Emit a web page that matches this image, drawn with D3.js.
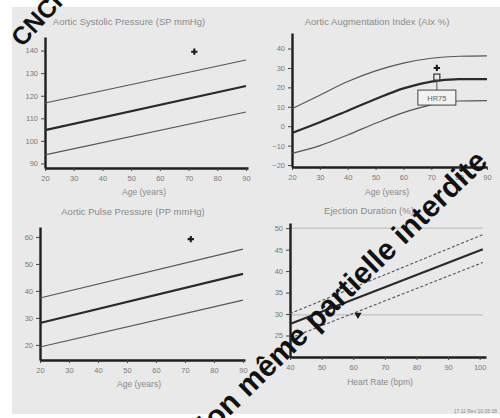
<!DOCTYPE html>
<html>
<head>
<meta charset="utf-8">
<script src="https://cdn.jsdelivr.net/npm/d3@7/dist/d3.min.js"></script>
<style>
  html, body { margin: 0; padding: 0; background: #ffffff; }
  svg { display: block; font-family: "Liberation Sans", Arial, sans-serif; }
</style>
</head>
<body>
<svg id="chart" width="500" height="418"></svg>
<script>
// ---- Aortic systolic pressure vs age (reference band + patient) ----
const spAges = [20, 90];
const spUpper = [116.8, 135.8];
const spMid = [104.8, 124.3];
const spLower = [93.8, 112.8];
const spPatient = [72, 139.5];
const spTicks = [90, 100, 110, 120, 130, 140];

// ---- Aortic augmentation index vs age ----
const aixAges = [20, 30, 40, 50, 60, 70, 80, 90];
const aixUpper = [9, 16, 23, 28.5, 32.5, 35, 36, 36.2];
const aixMid = [-3.5, 2, 8, 14, 19.5, 23, 24.2, 24.3];
const aixLower = [-14, -10, -4.5, 1.5, 7, 11, 13, 13.2];
const aixPatient = [72, 30];
const aixHr75 = [72, 25.3];
const aixTicks = [-20, -10, 0, 10, 20, 30, 40];

// ---- Aortic pulse pressure vs age ----
const ppAges = [20, 90];
const ppUpper = [37.4, 55.5];
const ppMid = [28.1, 46.3];
const ppLower = [19.2, 36.6];
const ppPatient = [72, 59.2];
const ppTicks = [20, 30, 40, 50, 60];

// ---- Ejection duration vs heart rate ----
const edRates = [40, 101];
const edUpper = [30.1, 48.5];
const edMid = [27.7, 45.1];
const edLower = [24.4, 42];
const edPatient = [61.5, 29.8];
const edGuides = [29.8, 50];
const edTicks = [25, 30, 35, 40, 45, 50];
const edRateTicks = [40, 50, 60, 70, 80, 90, 100];

const ageTicks = [20, 30, 40, 50, 60, 70, 80, 90];

const svg = d3.select("#chart");

// paper background
svg.append("rect").attr("width", 500).attr("height", 418).attr("fill", "#ffffff");
svg.append("rect").attr("x", 12).attr("y", 7).attr("width", 488).attr("height", 407).attr("fill", "#e9e9e9");

const textCol = "#8a8a8a";

function panel(cfg) {
  const g = svg.append("g");
  const x = d3.scaleLinear().domain(cfg.xDomain).range(cfg.xRange);
  const y = d3.scaleLinear().domain(cfg.yDomain).range(cfg.yRange);

  // guide lines
  (cfg.guides || []).forEach(v => {
    g.append("line")
      .attr("x1", x(cfg.xDomain[0])).attr("x2", x(cfg.xDomain[1]) - 3)
      .attr("y1", y(v)).attr("y2", y(v))
      .attr("stroke", "#b5b5b5").attr("stroke-width", 1);
  });

  const xAxis = g.append("g")
    .attr("transform", `translate(0,${cfg.yRange[0]})`)
    .call(d3.axisBottom(x).tickValues(cfg.xTicks).tickSize(3).tickSizeOuter(0).tickPadding(5)
      .tickFormat(d3.format("d")));
  const yAxis = g.append("g")
    .attr("transform", `translate(${cfg.xRange[0]},0)`)
    .call(d3.axisLeft(y).tickValues(cfg.yTicks).tickSize(4).tickSizeOuter(0).tickPadding(3)
      .tickFormat(d3.format("d")));
  [xAxis, yAxis].forEach(a => {
    a.select(".domain").attr("stroke", "#1e1e1e").attr("stroke-width", 2.4);
    a.selectAll(".tick line").attr("stroke", "#444").attr("stroke-width", 1);
    a.selectAll(".tick text").attr("fill", "#7a7a7a").attr("font-size", 7.5)
      .attr("font-family", "Liberation Sans, Arial, sans-serif");
  });

  const line = d3.line().x(d => x(d[0])).y(d => y(d[1])).curve(cfg.curve || d3.curveLinear);
  const band = [
    { vals: cfg.upper, w: 1.1, c: "#555", dash: cfg.dash },
    { vals: cfg.lower, w: 1.1, c: "#555", dash: cfg.dash },
    { vals: cfg.mid, w: 2.2, c: "#2a2a2a", dash: null }
  ];
  band.forEach(b => {
    g.append("path")
      .datum(cfg.xs.map((v, i) => [v, b.vals[i]]))
      .attr("d", line)
      .attr("fill", "none")
      .attr("stroke", b.c)
      .attr("stroke-width", b.w)
      .attr("stroke-dasharray", b.dash);
  });

  // titles
  g.append("text").attr("x", cfg.titlePos[0]).attr("y", cfg.titlePos[1])
    .attr("text-anchor", "middle").attr("font-size", 9.5).attr("fill", textCol).text(cfg.title);
  g.append("text").attr("x", cfg.xLabelPos[0]).attr("y", cfg.xLabelPos[1])
    .attr("text-anchor", "middle").attr("font-size", 8.5).attr("fill", textCol).text(cfg.xLabel);

  return { g, x, y };
}

// top-left
const p1 = panel({
  xDomain: [20, 90.7], xRange: [45, 248], yDomain: [88, 146], yRange: [168, 37],
  xTicks: ageTicks, yTicks: spTicks, xs: spAges, upper: spUpper, mid: spMid, lower: spLower,
  title: "Aortic Systolic Pressure (SP mmHg)", titlePos: [129, 25],
  xLabel: "Age (years)", xLabelPos: [144, 195]
});
p1.g.append("path").attr("d", d3.symbol(d3.symbolCross, 22)())
  .attr("transform", `translate(${p1.x(spPatient[0])},${p1.y(spPatient[1])})`).attr("fill", "#1a1a1a");

// top-right
const p2 = panel({
  xDomain: [20, 90], xRange: [292, 487], yDomain: [-21, 48], yRange: [167, 33],
  xTicks: ageTicks, yTicks: aixTicks, xs: aixAges, upper: aixUpper, mid: aixMid, lower: aixLower,
  curve: d3.curveMonotoneX,
  title: "Aortic Augmentation Index (AIx %)", titlePos: [377, 25],
  xLabel: "Age (years)", xLabelPos: [387, 195]
});
p2.g.append("path").attr("d", d3.symbol(d3.symbolCross, 22)())
  .attr("transform", `translate(${p2.x(aixPatient[0])},${p2.y(aixPatient[1])})`).attr("fill", "#1a1a1a");
{
  const hx = p2.x(aixHr75[0]), hy = p2.y(aixHr75[1]);
  p2.g.append("rect").attr("x", hx - 3).attr("y", hy - 3).attr("width", 6).attr("height", 6)
    .attr("fill", "#e9e9e9").attr("stroke", "#333").attr("stroke-width", 1.2);
  p2.g.append("line").attr("x1", hx).attr("x2", hx).attr("y1", hy + 3).attr("y2", hy + 13)
    .attr("stroke", "#555").attr("stroke-width", 1);
  p2.g.append("rect").attr("x", hx - 19).attr("y", hy + 13).attr("width", 38).attr("height", 15)
    .attr("fill", "#f2f2f2").attr("stroke", "#444").attr("stroke-width", 1);
  p2.g.append("text").attr("x", hx).attr("y", hy + 23.5).attr("text-anchor", "middle")
    .attr("font-size", 7.5).attr("fill", "#666").text("HR75");
}

// bottom-left
const p3 = panel({
  xDomain: [20, 90.7], xRange: [40, 245], yDomain: [14.4, 63.7], yRange: [360, 227],
  xTicks: ageTicks, yTicks: ppTicks, xs: ppAges, upper: ppUpper, mid: ppMid, lower: ppLower,
  title: "Aortic Pulse Pressure (PP mmHg)", titlePos: [133, 215],
  xLabel: "Age (years)", xLabelPos: [139, 387]
});
p3.g.append("path").attr("d", d3.symbol(d3.symbolCross, 22)())
  .attr("transform", `translate(${p3.x(ppPatient[0])},${p3.y(ppPatient[1])})`).attr("fill", "#1a1a1a");

// bottom-right
const p4 = panel({
  xDomain: [40, 102], xRange: [290, 486], yDomain: [20, 51.2], yRange: [357, 223],
  xTicks: edRateTicks, yTicks: edTicks, xs: edRates, upper: edUpper, mid: edMid, lower: edLower,
  dash: "3,2", guides: edGuides,
  title: "Ejection Duration (%)", titlePos: [369, 214],
  xLabel: "Heart Rate (bpm)", xLabelPos: [380, 385]
});
p4.g.append("path").attr("d", d3.symbol(d3.symbolTriangle, 22)())
  .attr("transform", `translate(${p4.x(edPatient[0])},${p4.y(edPatient[1])}) rotate(180)`).attr("fill", "#1a1a1a");

// footer stamp
svg.append("text").attr("x", 497).attr("y", 413).attr("text-anchor", "end")
  .attr("font-size", 5).attr("fill", "#8a8a8a").text("17:11 Rev 10.05.08");

// watermarks
svg.append("text").attr("transform", "translate(22,48) rotate(-47)")
  .attr("font-size", 25).attr("font-weight", "bold").attr("fill", "#111").text("CNCH");
svg.append("text").attr("transform", "translate(489,163) rotate(-44.3)")
  .attr("text-anchor", "end").attr("font-size", 30).attr("font-weight", "bold").attr("fill", "#111")
  .text("Reproduction même partielle interdite");
</script>
</body>
</html>
